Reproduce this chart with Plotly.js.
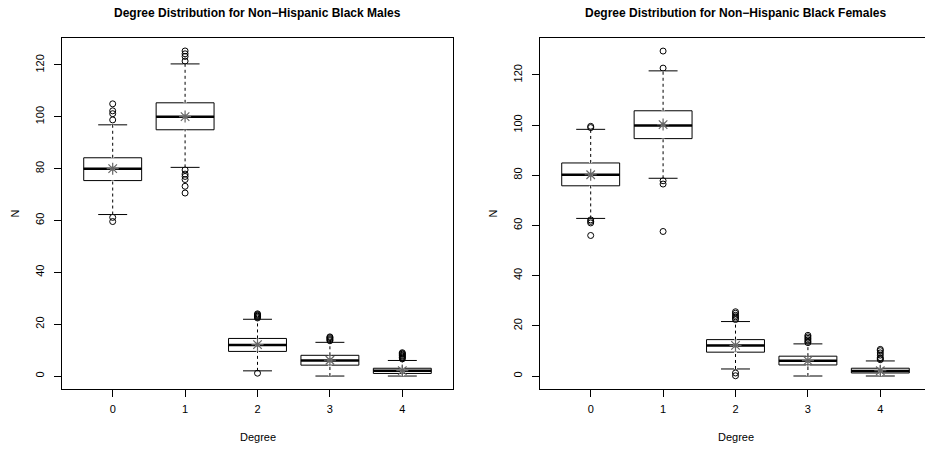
<!DOCTYPE html>
<html>
<head>
<meta charset="utf-8">
<script src="https://cdn.plot.ly/plotly-3.0.1.min.js"></script>
<style>
html,body{margin:0;padding:0;overflow:hidden;background:#fff;}
#chart{width:960px;height:450px;}
</style>
</head>
<body>
<div id="chart"></div>
<script>
// ---- data ----
const degrees = [0, 1, 2, 3, 4];
const tickLabels = ["0", "1", "2", "3", "4"];
const yTicks = [0, 20, 40, 60, 80, 100, 120];

const maleTitle = "Degree Distribution for Non\u2212Hispanic Black Males";
const femaleTitle = "Degree Distribution for Non\u2212Hispanic Black Females";

// Males
const maleQ1 = [75.4, 95.0, 9.5, 4.2, 1.0];
const maleMedian = [80.0, 100.0, 12.0, 6.0, 2.0];
const maleQ3 = [84.2, 105.4, 14.5, 8.0, 3.0];
const maleLower = [62.3, 80.5, 2.0, 0, 0];
const maleUpper = [96.9, 120.4, 21.9, 13.0, 6.0];
const maleMean = [80.0, 100.1, 12.1, 6.1, 2.1];
const maleOut0 = [105.0, 102.3, 101.2, 98.8, 61.2, 59.6];
const maleOut1 = [125.4, 124.3, 123.3, 121.5, 79.5, 77.9, 77.0, 75.8, 73.2, 70.6];
const maleOut2 = [22.4, 22.8, 23.1, 23.4, 23.7, 24.0, 1.1];
const maleOut3 = [13.6, 14.0, 14.4, 14.8, 15.1];
const maleOut4 = [6.6, 7.0, 7.3, 7.7, 8.0, 8.4, 8.7, 9.0];

// Females
const femaleQ1 = [75.8, 94.6, 9.5, 4.4, 1.2];
const femaleMedian = [80.2, 99.8, 12.2, 6.1, 2.0];
const femaleQ3 = [84.9, 105.7, 14.5, 7.9, 3.1];
const femaleLower = [62.8, 78.8, 2.8, 0, 0];
const femaleUpper = [98.3, 121.6, 21.7, 12.8, 6.0];
const femaleMean = [80.2, 100.2, 12.2, 6.1, 2.1];
const femaleOut0 = [99.0, 99.5, 62.2, 61.6, 61.0, 56.0];
const femaleOut1 = [129.5, 122.7, 77.8, 76.5, 57.6];
const femaleOut2 = [22.5, 23.0, 23.6, 24.2, 25.0, 25.6, 1.2, 0.1];
const femaleOut3 = [13.3, 13.8, 14.4, 15.0, 15.6, 16.2];
const femaleOut4 = [6.5, 6.9, 7.3, 8.3, 9.2, 10.1, 10.6];

// ---- build ----
const BOXW = 0.8;
const FONT = "Liberation Sans, Arial, Helvetica, sans-serif";

function panel(xa, ya, q1, med, q3, lo, up, mean, outs) {
  const tr = [];
  tr.push({
    type: "box", xaxis: xa, yaxis: ya, x: degrees,
    q1: q1, median: med, q3: q3, lowerfence: lo, upperfence: up,
    width: BOXW, whiskerwidth: 0.5, boxpoints: false,
    line: {color: "#000", width: 1}, fillcolor: "#fff",
    hoverinfo: "skip", showlegend: false
  });
  // whisker segments
  const wx = [], wy = [];
  degrees.forEach((d, i) => {
    wx.push(d, d, null, d, d, null);
    wy.push(q3[i], up[i], null, lo[i], q1[i], null);
  });
  tr.push({type: "scatter", mode: "lines", xaxis: xa, yaxis: ya, x: wx, y: wy,
    line: {color: "#fff", width: 3}, hoverinfo: "skip", showlegend: false});
  tr.push({type: "scatter", mode: "lines", xaxis: xa, yaxis: ya, x: wx, y: wy,
    line: {color: "#000", width: 1, dash: "3px,3px"}, hoverinfo: "skip", showlegend: false});
  // medians
  const mx = [], my = [];
  degrees.forEach((d, i) => {
    mx.push(d - BOXW / 2, d + BOXW / 2, null);
    my.push(med[i], med[i], null);
  });
  tr.push({type: "scatter", mode: "lines", xaxis: xa, yaxis: ya, x: mx, y: my,
    line: {color: "#000", width: 2.5}, hoverinfo: "skip", showlegend: false});
  // outliers
  const ox = [], oy = [];
  outs.forEach((arr, i) => arr.forEach(v => { ox.push(degrees[i]); oy.push(v); }));
  tr.push({type: "scatter", mode: "markers", xaxis: xa, yaxis: ya, x: ox, y: oy,
    marker: {symbol: "circle-open", size: 6, color: "#000", line: {width: 1, color: "#000"}},
    hoverinfo: "skip", showlegend: false});
  // means
  tr.push({type: "scatter", mode: "markers", xaxis: xa, yaxis: ya, x: degrees, y: mean,
    marker: {symbol: "circle", size: 5, color: "#aaa"}, hoverinfo: "skip", showlegend: false});
  tr.push({type: "scatter", mode: "markers", xaxis: xa, yaxis: ya, x: degrees, y: mean,
    marker: {symbol: "asterisk-open", size: 10, color: "#666", line: {width: 1.2, color: "#666"}},
    hoverinfo: "skip", showlegend: false});
  return tr;
}

const data = [].concat(
  panel("x", "y", maleQ1, maleMedian, maleQ3, maleLower, maleUpper, maleMean,
        [maleOut0, maleOut1, maleOut2, maleOut3, maleOut4]),
  panel("x2", "y2", femaleQ1, femaleMedian, femaleQ3, femaleLower, femaleUpper, femaleMean,
        [femaleOut0, femaleOut1, femaleOut2, femaleOut3, femaleOut4])
);

const W = 960, H = 450;
const yDom = [(H - 389) / H, (H - 38) / H];

function xAxis(dom, anchor) {
  return {
    domain: dom, anchor: anchor, range: [-0.7, 4.7], zeroline: false, showgrid: false,
    tickmode: "array", tickvals: degrees, ticktext: tickLabels,
    ticks: "outside", ticklen: 7, tickwidth: 1, tickcolor: "#000",
    showline: true, linecolor: "#000", linewidth: 1, mirror: true,
    tickfont: {family: FONT, size: 11, color: "#000"}, ticklabelstandoff: 3
  };
}
function yAxis(range, anchor) {
  return {
    domain: yDom, anchor: anchor, range: range, zeroline: false, showgrid: false,
    tickmode: "array", tickvals: yTicks, ticktext: yTicks.map(String),
    ticks: "outside", ticklen: 7, tickwidth: 1, tickcolor: "#000", tickangle: -90,
    showline: true, linecolor: "#000", linewidth: 1, mirror: true,
    tickfont: {family: FONT, size: 11, color: "#000"}, ticklabelstandoff: 6
  };
}

const xd1 = [62 / W, 453 / W], xd2 = [540 / W, 931 / W];
const c1 = (xd1[0] + xd1[1]) / 2, c2 = (xd2[0] + xd2[1]) / 2;
const midY = (yDom[0] + yDom[1]) / 2;

const ann = (text, x, y, opts) => Object.assign({
  text: text, x: x, y: y, xref: "paper", yref: "paper", showarrow: false,
  xanchor: "center", yanchor: "middle", font: {family: FONT, size: 11, color: "#000"}
}, opts || {});

const layout = {
  width: W, height: H, margin: {l: 0, r: 0, t: 0, b: 0},
  paper_bgcolor: "#fff", plot_bgcolor: "#fff", showlegend: false,
  xaxis: xAxis(xd1, "y"), yaxis: yAxis([-5, 130.4], "x"),
  xaxis2: xAxis(xd2, "y2"), yaxis2: yAxis([-5.18, 134.7], "x2"),
  annotations: [
    ann("<b>" + maleTitle + "</b>", c1, 1 - 13 / H, {font: {family: FONT, size: 12, color: "#000"}}),
    ann("<b>" + femaleTitle + "</b>", c2, 1 - 13 / H, {font: {family: FONT, size: 12, color: "#000"}}),
    ann("Degree", c1, 1 - 437 / H),
    ann("Degree", c2, 1 - 437 / H),
    ann("N", 14 / W, midY, {textangle: -90}),
    ann("N", 492 / W, midY, {textangle: -90})
  ]
};

Plotly.newPlot("chart", data, layout, {staticPlot: true, displayModeBar: false});
</script>
</body>
</html>
